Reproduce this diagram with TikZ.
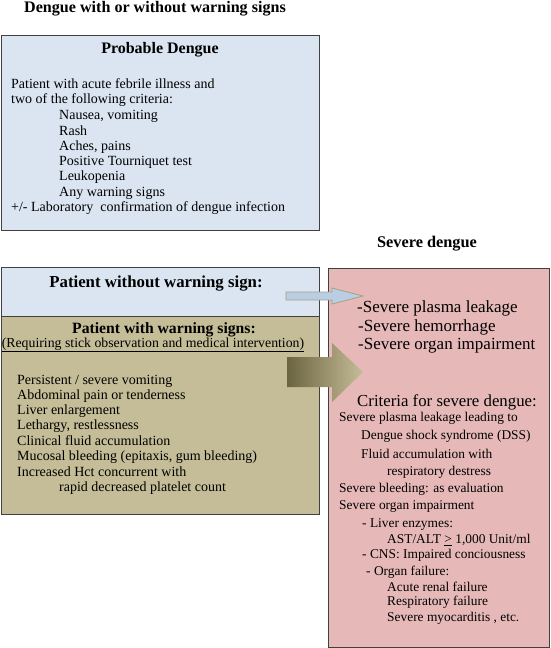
\documentclass[tikz,border=0pt]{standalone}
\usepackage{fontspec}
\setmainfont{Liberation Serif}
\usetikzlibrary{calc}
\definecolor{boxblue}{HTML}{DBE5F1}
\definecolor{boxtan}{HTML}{C4BD97}
\definecolor{boxpink}{HTML}{E6B9B8}
\definecolor{edgegray}{HTML}{404040}
\definecolor{arrblue}{HTML}{B9CDE5}
\definecolor{arrdark}{HTML}{6B6440}
\begin{document}
\begin{tikzpicture}[x=1pt,y=-1pt,
  panel/.style={draw=edgegray, line width=0.9pt, inner sep=0pt, anchor=north west},
  txt/.style={inner sep=0pt, anchor=west, font=\fontsize{14}{15}\selectfont},
  ptxt/.style={inner sep=0pt, anchor=west, font=\fontsize{13.4}{15}\selectfont},
  bigtxt/.style={inner sep=0pt, anchor=west, font=\fontsize{17}{19}\selectfont},
  head/.style={inner sep=0pt, font=\bfseries\fontsize{16}{17}\selectfont}]
\useasboundingbox (0,0) rectangle (550,648);
% panels
\node[panel, fill=boxblue, minimum width=318pt, minimum height=195pt] (prob) at (1,35) {};
\node[panel, fill=boxblue, minimum width=318pt, minimum height=49pt] (nowarn) at (1,267) {};
\node[panel, fill=boxtan, minimum width=318pt, minimum height=198pt] (warn) at (1,316) {};
\node[panel, fill=boxpink, minimum width=221pt, minimum height=379pt] (severe) at (328,268) {};
% arrows
\coordinate (a1s) at (286,296);
\coordinate (a1e) at (363,296);
\fill[arrblue, draw=boxtan!85!black, line width=0.8pt]
  ($(a1s)+(0,-4)$) -- (332,292) -- (332,288) -- (a1e) -- (332,304) -- (332,300) -- ($(a1s)+(0,4)$) -- cycle;
\shade[left color=arrdark, right color=boxtan]
  (287,357) -- (332,357) -- (332,343) -- (363,372) -- (332,402) -- (332,387) -- (287,387) -- cycle;
% headings
\node[head, font=\bfseries\fontsize{16.1}{17}\selectfont] (title) at (155,9) {Dengue with or without warning signs};
\node[head] (probt) at (160,50) {Probable Dengue};
\node[head, font=\bfseries\fontsize{16.8}{17}\selectfont] (nowt) at (156,284) {Patient without warning sign:};
\node[head, font=\bfseries\fontsize{15.7}{17}\selectfont] (wt) at (164,330) {Patient with warning signs:};
\node[head, font=\bfseries\fontsize{16.3}{17}\selectfont] (sevt) at (427,244) {Severe dengue};
% probable dengue text
\node[txt] (p1) at (11,84) {Patient with acute febrile illness and};
\node[txt] (p2) at (11,100) {two of the following criteria:};
\node[txt] (p3) at (59,116) {Nausea, vomiting};
\node[txt] (p4) at (59,131) {Rash};
\node[txt] (p5) at (59,147) {Aches, pains};
\node[txt] (p6) at (59,162) {Positive Tourniquet test};
\node[txt] (p7) at (59,177) {Leukopenia};
\node[txt] (p8) at (59,193) {Any warning signs};
\node[txt] (p9) at (11,208) {+/- Laboratory\ \ confirmation of dengue infection};
% warning signs text
\node[txt, anchor=center, font=\fontsize{13.8}{15}\selectfont] (w0) at (153,345) {\underline{(Requiring stick observation and medical intervention)}};
\node[txt] (w1) at (17,381) {Persistent / severe vomiting};
\node[txt] (w2) at (17,396) {Abdominal pain or tenderness};
\node[txt] (w3) at (17,411) {Liver enlargement};
\node[txt] (w4) at (17,426) {Lethargy, restlessness};
\node[txt] (w5) at (17,441) {Clinical fluid accumulation};
\node[txt] (w6) at (17,457) {Mucosal bleeding (epitaxis, gum bleeding)};
\node[txt] (w7) at (17,472) {Increased Hct concurrent with};
\node[txt] (w8) at (59,488) {rapid decreased platelet count};
% severe text
\node[bigtxt] (s1) at (357,308) {-Severe plasma leakage};
\node[bigtxt] (s2) at (358,327) {-Severe hemorrhage};
\node[bigtxt] (s3) at (358,346) {-Severe organ impairment};
\node[bigtxt, font=\fontsize{16.8}{18}\selectfont] (c0) at (357,402) {Criteria for severe dengue:};
\node[ptxt] (c1) at (339,418) {Severe plasma leakage leading to};
\node[ptxt] (c2) at (361,436) {Dengue shock\ syndrome (DSS)};
\node[ptxt] (c3) at (361,454) {Fluid accumulation with};
\node[ptxt] (c4) at (387,472) {respiratory destress};
\node[ptxt] (c5) at (339,489) {Severe bleeding: as evaluation};
\node[ptxt] (c6) at (339,507) {Severe organ impairment};
\node[ptxt] (c7) at (362,525) {- Liver enzymes:};
\node[ptxt] (c8) at (387,540) {AST/ALT \underline{>} 1,000 Unit/ml};
\node[ptxt] (c9) at (362,555) {- CNS: Impaired conciousness};
\node[ptxt] (c10) at (366,572) {- Organ failure:};
\node[ptxt] (c11) at (387,587) {Acute renal failure};
\node[ptxt] (c12) at (387,602) {Respiratory failure};
\node[ptxt] (c13) at (387,618) {Severe myocarditis , etc.};
\end{tikzpicture}
\end{document}
